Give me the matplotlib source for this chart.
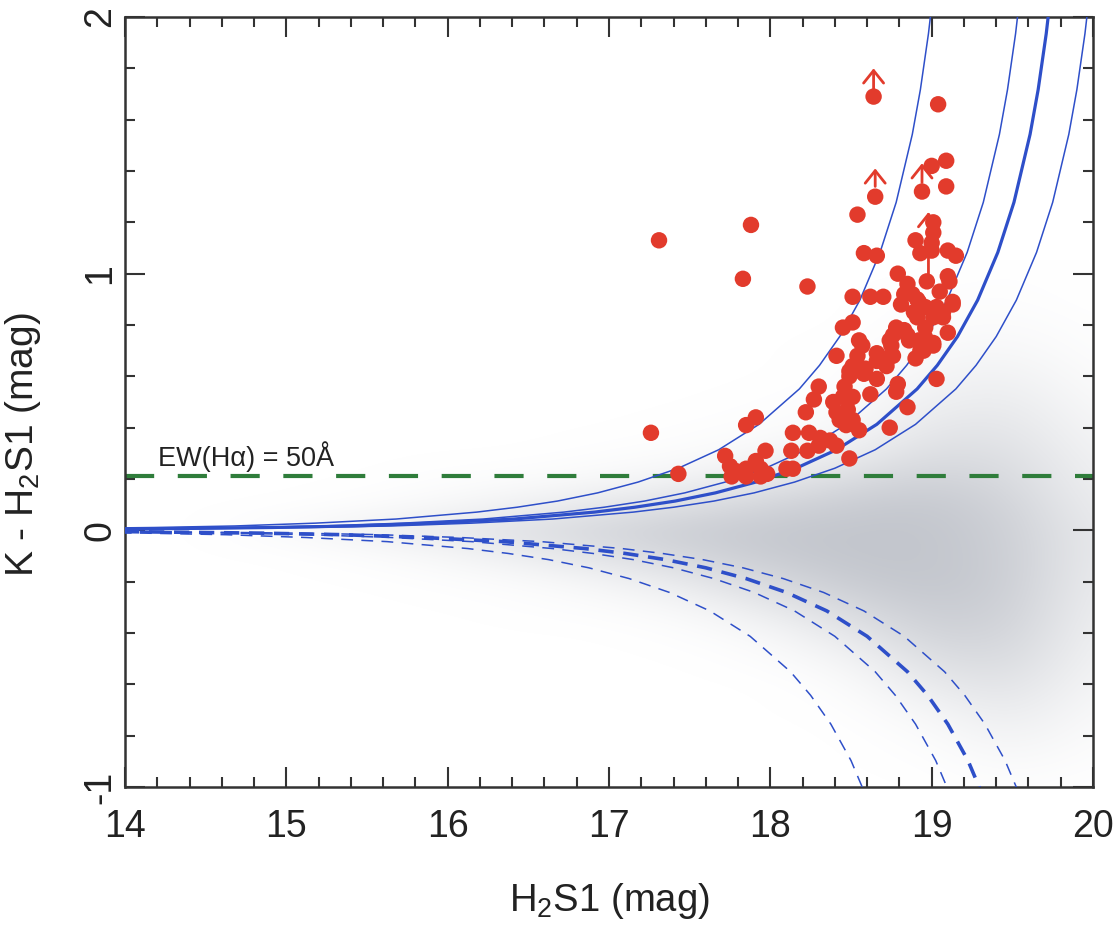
import numpy as np
import matplotlib
matplotlib.use("Agg")
import matplotlib.pyplot as plt
from matplotlib.ticker import MultipleLocator
from matplotlib.colors import LinearSegmentedColormap

plt.rcParams["font.family"] = ["Liberation Sans", "DejaVu Sans"]
plt.rcParams["mathtext.fontset"] = "custom"
plt.rcParams["mathtext.rm"] = "Liberation Sans"
plt.rcParams["mathtext.it"] = "Liberation Sans:italic"
plt.rcParams["axes.unicode_minus"] = False
plt.rcParams["lines.scale_dashes"] = False

# field stars: density of the H2S1 / K-H2S1 cloud on a coarse grid
field_x = [14.5, 15.0, 15.5, 16.0, 16.5, 17.0, 17.5, 18.0, 18.5, 19.0, 19.5, 20.0]
field_y = [1.0, 0.9, 0.8, 0.7, 0.6, 0.5, 0.4, 0.3, 0.2, 0.1, 0.0,
           -0.1, -0.2, -0.3, -0.4, -0.5, -0.6, -0.7, -0.8, -0.9, -1.0]
field_density = [
    [0, 0, 0, 0, 0, 0, 0, 0, 0, 0, 0.02, 0],
    [0, 0, 0, 0, 0, 0, 0, 0, 0, 0.03, 0.04, 0],
    [0, 0, 0, 0, 0, 0, 0, 0, 0, 0.05, 0.08, 0.02],
    [0, 0, 0, 0, 0, 0, 0, 0, 0.02, 0.10, 0.15, 0.03],
    [0, 0, 0, 0, 0, 0, 0, 0, 0.03, 0.18, 0.25, 0.06],
    [0, 0, 0, 0, 0, 0, 0, 0.02, 0.06, 0.28, 0.35, 0.10],
    [0, 0, 0, 0, 0, 0, 0.02, 0.05, 0.12, 0.42, 0.45, 0.15],
    [0, 0, 0, 0, 0, 0.03, 0.06, 0.15, 0.30, 0.58, 0.55, 0.20],
    [0, 0, 0, 0.03, 0.06, 0.12, 0.22, 0.38, 0.60, 0.78, 0.65, 0.25],
    [0, 0, 0.04, 0.12, 0.25, 0.40, 0.55, 0.72, 0.88, 0.95, 0.75, 0.30],
    [0, 0.10, 0.25, 0.40, 0.55, 0.72, 0.85, 0.95, 1.0, 1.0, 0.82, 0.35],
    [0, 0, 0.05, 0.15, 0.32, 0.52, 0.72, 0.90, 1.0, 1.0, 0.85, 0.35],
    [0, 0, 0, 0.03, 0.08, 0.20, 0.40, 0.68, 0.90, 1.0, 0.85, 0.32],
    [0, 0, 0, 0, 0.02, 0.06, 0.15, 0.38, 0.68, 0.90, 0.82, 0.28],
    [0, 0, 0, 0, 0, 0, 0.04, 0.15, 0.42, 0.78, 0.75, 0.24],
    [0, 0, 0, 0, 0, 0, 0, 0.05, 0.20, 0.58, 0.65, 0.20],
    [0, 0, 0, 0, 0, 0, 0, 0, 0.07, 0.38, 0.52, 0.15],
    [0, 0, 0, 0, 0, 0, 0, 0, 0.02, 0.18, 0.38, 0.10],
    [0, 0, 0, 0, 0, 0, 0, 0, 0, 0.07, 0.24, 0.06],
    [0, 0, 0, 0, 0, 0, 0, 0, 0, 0.02, 0.12, 0.03],
    [0, 0, 0, 0, 0, 0, 0, 0, 0, 0, 0.04, 0],
]

# emission-line candidates
cand_x = [17.31, 17.88, 18.54, 18.64, 19.04, 18.65, 18.94, 19.00, 19.09, 19.09,
          19.01, 18.90, 19.01, 19.00, 18.93, 19.00, 19.10, 19.15, 18.58, 18.66,
          17.83, 18.23, 17.26, 17.43, 18.79, 18.85, 19.10, 19.11, 18.97, 18.51,
          18.62, 18.70, 18.83, 18.91, 19.05, 19.13, 18.81, 18.89, 18.96, 19.01,
          19.07, 18.91, 19.10, 18.51, 18.45, 18.76, 18.83, 18.86, 18.75, 18.96,
          19.01, 18.93, 18.90, 18.57, 18.54, 18.41, 18.66, 18.72, 18.76, 19.03,
          18.49, 18.58, 18.66, 18.46, 18.62, 18.78, 18.30, 18.27, 18.39, 18.45,
          18.51, 18.41, 18.48, 18.51, 18.85, 18.22, 18.55, 18.47, 18.74, 17.91,
          17.85, 17.97, 18.14, 18.24, 18.31, 18.37, 18.13, 18.23, 18.30, 18.41,
          18.49, 18.10, 18.14, 17.72, 17.75, 17.79, 17.85, 17.91, 17.94, 17.76,
          17.85, 17.94, 17.98, 18.43, 18.88, 18.92, 19.03, 19.07, 19.13, 18.78,
          18.85, 18.74, 18.96, 18.92, 19.01, 18.95, 18.55, 18.66, 18.72, 18.51,
          18.59, 18.49, 18.79]
cand_y = [1.13, 1.19, 1.23, 1.69, 1.66, 1.30, 1.32, 1.42, 1.44, 1.34,
          1.20, 1.13, 1.16, 1.12, 1.08, 1.09, 1.09, 1.07, 1.08, 1.07,
          0.98, 0.95, 0.38, 0.22, 1.00, 0.96, 0.99, 0.97, 0.97, 0.91,
          0.91, 0.91, 0.92, 0.90, 0.93, 0.88, 0.88, 0.85, 0.87, 0.83,
          0.83, 0.83, 0.77, 0.81, 0.79, 0.76, 0.78, 0.74, 0.72, 0.75,
          0.72, 0.70, 0.67, 0.72, 0.68, 0.68, 0.66, 0.64, 0.68, 0.59,
          0.62, 0.61, 0.59, 0.56, 0.53, 0.54, 0.56, 0.51, 0.50, 0.52,
          0.52, 0.46, 0.47, 0.43, 0.48, 0.46, 0.39, 0.41, 0.40, 0.44,
          0.41, 0.31, 0.38, 0.38, 0.36, 0.35, 0.31, 0.31, 0.33, 0.33,
          0.28, 0.24, 0.24, 0.29, 0.25, 0.23, 0.24, 0.27, 0.24, 0.21,
          0.21, 0.21, 0.22, 0.43, 0.92, 0.89, 0.87, 0.85, 0.89, 0.79,
          0.76, 0.74, 0.79, 0.74, 0.73, 0.70, 0.74, 0.69, 0.67, 0.64,
          0.63, 0.60, 0.57]

# lower limits
limit_x = [18.64, 18.65, 18.94, 18.98]
limit_y0 = [1.72, 1.34, 1.355, 1.00]
limit_y1 = [1.80, 1.41, 1.43, 1.24]

# detection limits: upper branch (solid) and lower branch (dashed)
upper_level = [0.002, 0.004, 0.011, 0.017, 0.028, 0.044, 0.071, 0.090, 0.114, 0.146,
               0.188, 0.242, 0.314, 0.413, 0.551, 0.643, 0.755, 0.897, 1.083, 1.278,
               1.543, 1.717, 1.935, 2.098]
upper_x = [
    [12.18, 13.18, 14.18, 14.68, 15.18, 15.68, 16.18, 16.43, 16.68, 16.93, 17.18, 17.43,
     17.68, 17.93, 18.18, 18.305, 18.43, 18.555, 18.68, 18.78, 18.88, 18.93, 18.98, 19.01],
    [12.72, 13.72, 14.72, 15.22, 15.72, 16.22, 16.72, 16.97, 17.22, 17.47, 17.72, 17.97,
     18.22, 18.47, 18.72, 18.845, 18.97, 19.095, 19.22, 19.32, 19.42, 19.47, 19.52, 19.55],
    [12.91, 13.91, 14.91, 15.41, 15.91, 16.41, 16.91, 17.16, 17.41, 17.66, 17.91, 18.16,
     18.41, 18.66, 18.91, 19.035, 19.16, 19.285, 19.41, 19.51, 19.61, 19.66, 19.71, 19.74],
    [13.15, 14.15, 15.15, 15.65, 16.15, 16.65, 17.15, 17.4, 17.65, 17.9, 18.15, 18.4,
     18.65, 18.9, 19.15, 19.275, 19.4, 19.525, 19.65, 19.75, 19.85, 19.9, 19.95, 19.98],
]
lower_level = [-0.002, -0.004, -0.011, -0.017, -0.028, -0.044, -0.071, -0.090, -0.114, -0.146,
               -0.188, -0.242, -0.314, -0.413, -0.551, -0.643, -0.755, -0.897, -1.083, -1.174]
lower_x = [
    [12.125, 13.125, 14.125, 14.625, 15.125, 15.625, 16.125, 16.375, 16.625, 16.875,
     17.125, 17.375, 17.625, 17.875, 18.125, 18.25, 18.375, 18.5, 18.625, 18.675],
    [12.65, 13.65, 14.65, 15.15, 15.65, 16.15, 16.65, 16.9, 17.15, 17.4,
     17.65, 17.9, 18.15, 18.4, 18.65, 18.775, 18.9, 19.025, 19.15, 19.2],
    [12.85, 13.85, 14.85, 15.35, 15.85, 16.35, 16.85, 17.1, 17.35, 17.6,
     17.85, 18.1, 18.35, 18.6, 18.85, 18.975, 19.1, 19.225, 19.35, 19.4],
    [13.08, 14.08, 15.08, 15.58, 16.08, 16.58, 17.08, 17.33, 17.58, 17.83,
     18.08, 18.33, 18.58, 18.83, 19.08, 19.205, 19.33, 19.455, 19.58, 19.63],
]
curve_lw = [1.1, 1.1, 2.3, 1.1]

ew_level = 0.21

blue = "#2e4fc9"
red = "#e23b2c"
green = "#2f7d3b"
ink = "#222222"

fig = plt.figure(figsize=(11.16, 9.25), dpi=100)
ax = fig.add_axes([0.112, 0.1492, 0.8674, 0.8324])

cmap = LinearSegmentedColormap.from_list("field", ["#ffffff", "#c3c6cd"])
ax.imshow(np.array(field_density), cmap=cmap, vmin=0, vmax=1,
          extent=(field_x[0] - 0.25, field_x[-1] + 0.25,
                  field_y[-1] - 0.05, field_y[0] + 0.05),
          origin="upper", aspect="auto", interpolation="bicubic", zorder=0)

ax.plot([14, 20], [ew_level, ew_level], color=green, lw=3.0,
        dashes=(21, 17), zorder=2)
ax.text(14.205, 0.25, "EW(H\u03b1) = 50\u00c5", fontsize=19.5, color=ink)

for xs, lw in zip(upper_x, curve_lw):
    ax.plot(xs, upper_level, color=blue, lw=lw, zorder=3)
for xs, lw in zip(lower_x, curve_lw):
    if lw > 2:
        ax.plot(xs, lower_level, color=blue, lw=lw + 0.3, dashes=(11, 7), zorder=3)
    else:
        ax.plot(xs, lower_level, color=blue, lw=lw, dashes=(8.5, 6), zorder=3)

ax.scatter(cand_x, cand_y, s=140, color=red, edgecolors="none", zorder=4)
for x, y0, y1 in zip(limit_x, limit_y0, limit_y1):
    ax.annotate("", xy=(x, y1), xytext=(x, y0),
                arrowprops=dict(arrowstyle="->,head_length=0.5,head_width=0.4",
                                color=red, lw=2.0, mutation_scale=18,
                                shrinkA=0, shrinkB=0), zorder=5)

ax.set_xlim(14, 20)
ax.set_ylim(-1, 2)
ax.set_xticks([14, 15, 16, 17, 18, 19, 20])
ax.set_yticks([-1, 0, 1, 2])
ax.set_yticklabels(["-1", "0", "1", "2"], rotation=90, va="center")
ax.xaxis.set_minor_locator(MultipleLocator(0.2))
ax.yaxis.set_minor_locator(MultipleLocator(0.2))
ax.tick_params(which="both", direction="in", top=True, right=True,
               width=1.5, color="#333333", labelsize=27, labelcolor=ink)
ax.tick_params(which="major", length=14.5)
ax.tick_params(which="minor", length=7.5)
ax.tick_params(axis="x", pad=16)
ax.tick_params(axis="y", pad=5)
for sp in ax.spines.values():
    sp.set_linewidth(1.8)
    sp.set_color("#333333")

ax.set_xlabel("H$_2$S1 (mag)", fontsize=27.5, color=ink, labelpad=26)
ax.set_ylabel("K - H$_2$S1 (mag)", fontsize=28, color=ink)
ax.yaxis.set_label_coords(-0.085, 0.445)

fig.savefig("out.png", dpi=100)
